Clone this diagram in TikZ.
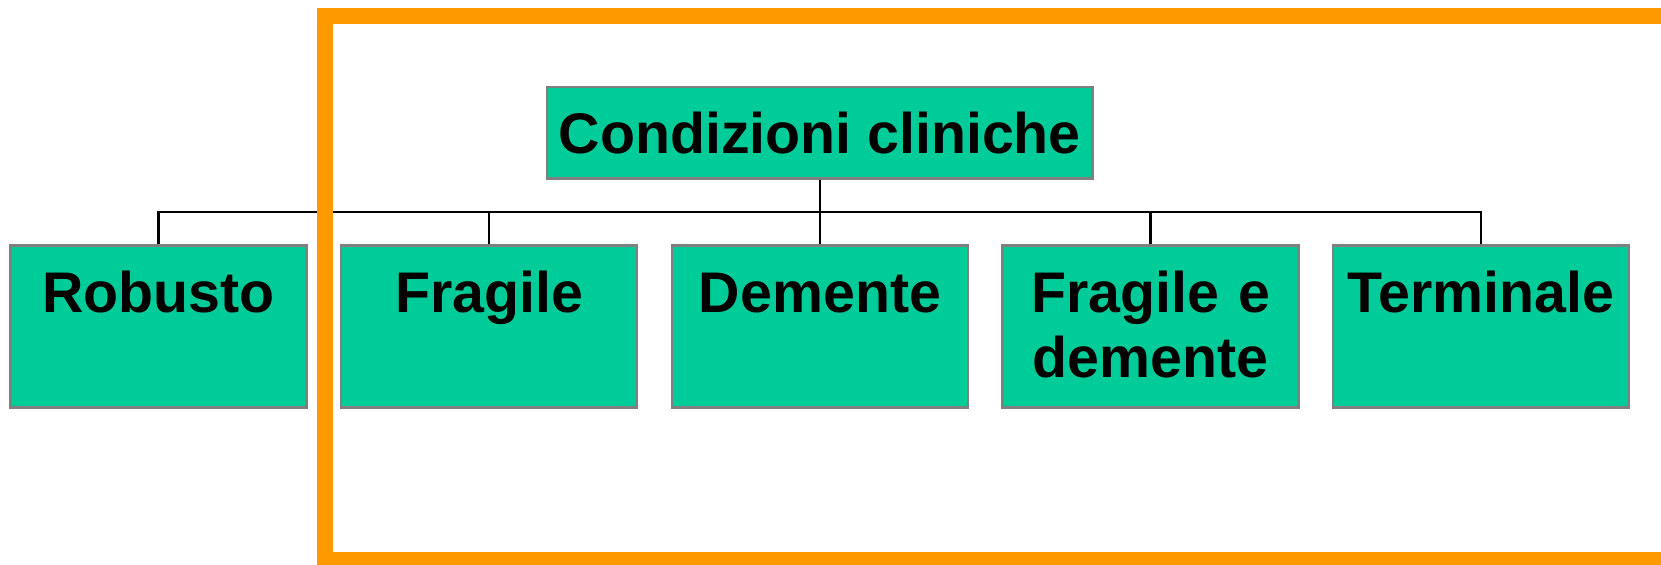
\documentclass[tikz,border=0pt]{standalone}
\usepackage{fontspec}
\setmainfont{Liberation Sans}
\usetikzlibrary{calc}

\definecolor{boxgreen}{HTML}{00CC99}
\definecolor{boxgray}{HTML}{808080}
\definecolor{frameorange}{HTML}{FF9900}

\tikzset{
  boxfont/.style={font=\fontsize{28.65}{32.5}\selectfont\bfseries},
  rootbox/.style={boxfont, draw=boxgray, fill=boxgreen, line width=1.4pt,
    minimum width=272.75pt, minimum height=45.75pt, inner sep=0pt},
  leafbox/.style={boxfont, draw=boxgray, fill=boxgreen, line width=1.4pt,
    text width=148pt, align=center, inner sep=0pt,
    text height=33.3pt, text depth=47.7pt},
  link/.style={black, line width=1.1pt},
}

\begin{document}
\begin{tikzpicture}[x=0.5pt,y=-0.5pt]
  \useasboundingbox (0,0) rectangle (1661,564);

  % radice
  \node[rootbox] (root) at (819.75,132.75) {Condizioni cliniche};

  % categorie
  \node[leafbox] (robusto)   at (158.5,326.5)  {Robusto};
  \node[leafbox] (fragile)   at (489,326.5)    {Fragile};
  \node[leafbox] (demente)   at (820,326.5)    {Demente};
  \node[leafbox] (fragdem)   at (1150.5,326.5) {Fragile e\\demente};
  \node[leafbox] (terminale) at (1481,326.5)   {Terminale};

  % collegamenti
  \foreach \c in {robusto,fragile,demente,fragdem,terminale}
    \draw[link] (root.south) |- ($(root.south)!0.5!(\c.north)$) -| (\c.north);

  % cornice arancione
  \draw[frameorange, line width=8pt] (1661,16) -- (325,16) -- (325,560) -- (1661,560);

\end{tikzpicture}
\end{document}
